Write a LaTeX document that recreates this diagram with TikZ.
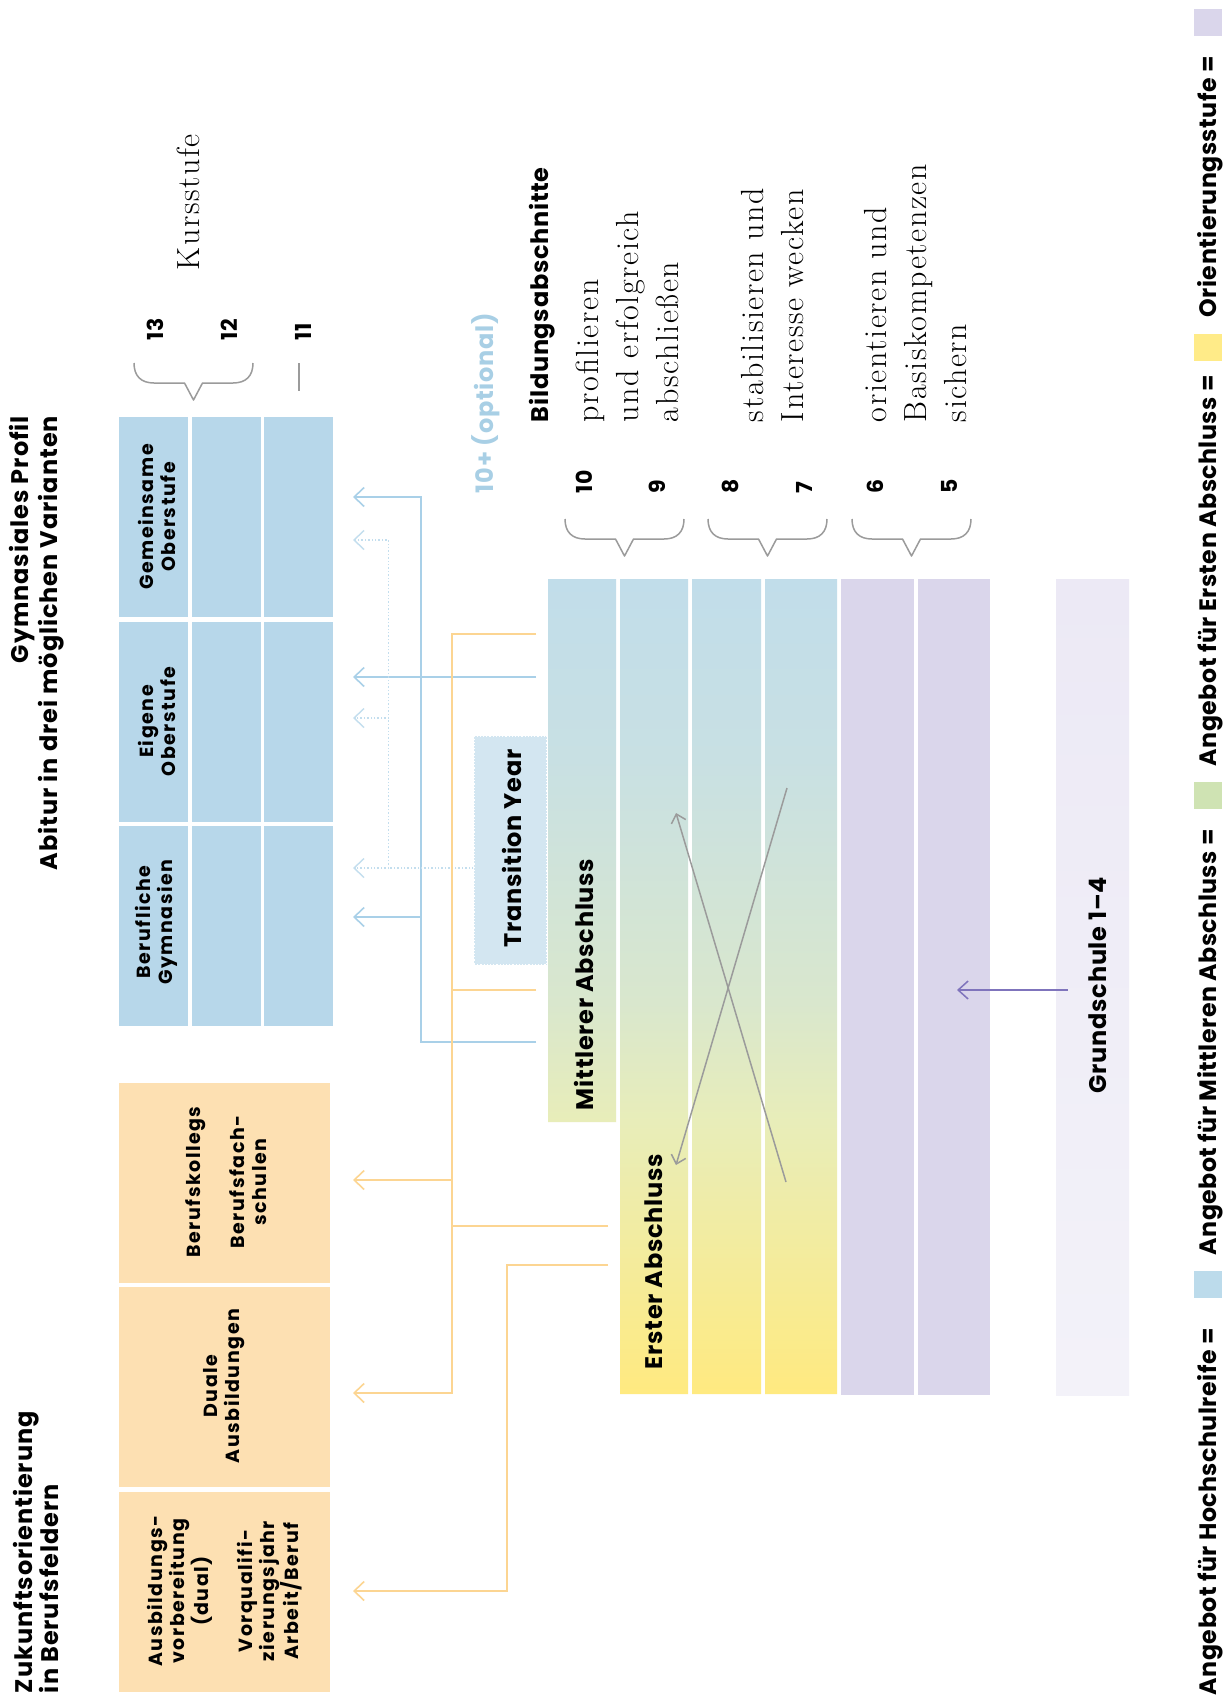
\documentclass[tikz,border=0pt]{standalone}
\usepackage{fontspec}
\newfontfamily\pop{Poppins}
\newfontfamily\popt{Poppins}[LetterSpace=4]
\newfontfamily\popb{Poppins}[LetterSpace=3]
\newfontfamily\popg{Poppins}[LetterSpace=2]
\newfontfamily\popls{Poppins}[LetterSpace=8]
\newfontfamily\serls{lmroman17-regular.otf}[LetterSpace=5]
\usetikzlibrary{arrows.meta}
\definecolor{gblue}{HTML}{B7D7EA}
\definecolor{gorange}{HTML}{FDE0B2}
\definecolor{gpurple}{HTML}{DAD6EB}
\definecolor{glavtop}{HTML}{ECE9F5}
\definecolor{glavbot}{HTML}{F3F2F9}
\definecolor{tyfill}{HTML}{D3E6F1}
\definecolor{lblue}{HTML}{A9D0E8}
\definecolor{lorange}{HTML}{FCD592}
\definecolor{ldot}{HTML}{C3DEEE}
\definecolor{optblue}{HTML}{A8CFE5}
\definecolor{grline}{HTML}{9B9B9B}
\definecolor{puline}{HTML}{7F74BC}
\definecolor{gb}{HTML}{C1DDEA}
\definecolor{gbb}{HTML}{C8E0E3}
\definecolor{gm}{HTML}{D9E7CD}
\definecolor{gc}{HTML}{E8EDB9}
\definecolor{gy}{HTML}{FFEA80}
\definecolor{lgblue}{HTML}{BCDBEB}
\definecolor{lggreen}{HTML}{CFE3B3}
\definecolor{lgyellow}{HTML}{FFEB88}
\definecolor{lgpurple}{HTML}{DAD6EB}
\pgfdeclareverticalshading{colgrad}{100bp}{color(0bp)=(gy); color(25bp)=(gy); color(41.7bp)=(gc); color(49bp)=(gm); color(64bp)=(gbb); color(75bp)=(gb); color(100bp)=(gb)}
\newcommand{\swatch}[1]{\textcolor{#1}{\rule[-6pt]{27pt}{28pt}}}
\begin{document}
\begin{tikzpicture}[x=1pt,y=1pt,
  rt/.style={rotate=90, inner sep=0pt, outer sep=0pt},
  ttl/.style={rt, font=\popt\bfseries\fontsize{24}{28}\selectfont},
  num/.style={rt, font=\pop\bfseries\fontsize{22}{26}\selectfont},
  big/.style={rt, font=\popb\bfseries\fontsize{24}{28}\selectfont},
  lbl/.style={rt, align=center, font=\popls\bfseries\fontsize{19}{22}\selectfont},
  ser/.style={rt, font=\serls\fontsize{32}{38}\selectfont},
  leg/.style={rt, font=\popg\bfseries\fontsize{23.7}{28}\selectfont},
  bblk/.style={rectangle, fill=gblue, inner sep=0pt, minimum width=69pt, minimum height=200pt},
  oblk/.style={rectangle, fill=gorange, inner sep=0pt, minimum width=211pt, minimum height=200pt},
  pblk/.style={rectangle, fill=gpurple, inner sep=0pt, minimum height=816pt},
  tybox/.style={rectangle, fill=tyfill, draw=white, dotted, line width=1.2pt, inner sep=0pt, minimum width=73pt, minimum height=229pt},
  barb/.style={-{Straight Barb[length=10pt,width=19pt]}},
  blueln/.style={draw=lblue, line width=1.6pt},
  dotln/.style={draw=ldot, line width=1.4pt, dotted},
  orln/.style={draw=lorange, line width=1.6pt},
  grln/.style={draw=grline, line width=1.5pt, -{Straight Barb[length=8pt,width=15pt]}},
  puln/.style={draw=puline, line width=1.5pt, -{Straight Barb[length=10pt,width=18pt]}},
  graybr/.style={draw=grline, line width=1.5pt, line join=round},
  brc/.pic={\draw[graybr] (-#1,0) .. controls (-#1,-13) and (-#1+7,-20) .. (-#1+20,-20) -- (-9,-20) -- (0,-37) -- (9,-20) -- (#1-20,-20) .. controls (#1-7,-20) and (#1,-13) .. (#1,0);}
]
\useasboundingbox (0,0) rectangle (1224,-1697);
\fill[white] (0,0) rectangle (1224,-1697);

% ---------- Gymnasiales Profil blocks ----------
\foreach \cx [count=\i] in {153.5,226.5,298.5}
  \foreach \cy [count=\j] in {517,721.5,925.5}
    \node[bblk] (gb\i\j) at (\cx,-\cy) {};
\node[lbl] (lgem) at (156.5,-517) {Gemeinsame\\Oberstufe};
\node[lbl] (leig) at (156.5,-721.5) {Eigene\\Oberstufe};
\node[lbl] (lber) at (156.5,-922) {Berufliche\\Gymnasien};

% ---------- Berufsfelder blocks ----------
\node[oblk] (ob1) at (224.5,-1182.5) {};
\node[oblk] (ob2) at (224.5,-1387) {};
\node[oblk] (ob3) at (224.5,-1591.5) {};
\node[lbl] (lbk) at (226,-1182) {Berufskollegs\\[22pt]Berufsfach-\\schulen};
\node[lbl] (ldu) at (224,-1386) {Duale\\Ausbildungen};
\node[lbl] (lav) at (225,-1591) {Ausbildungs-\\vorbereitung\\(dual)\\[22pt]Vorqualifi-\\zierungsjahr\\Arbeit/Beruf};

% ---------- titles ----------
\node[ttl, anchor=base west] (t1) at (32,-1693) {Zukunftsorientierung};
\node[ttl, anchor=base west] (t2) at (58,-1693) {in Berufsfeldern};
\node[ttl, anchor=base east] (t3) at (28,-416) {Gymnasiales Profil};
\node[ttl, anchor=base east] (t4) at (57,-416) {Abitur in drei möglichen Varianten};

% ---------- Kursstufe ----------
\pic at (193.5,-363) {brc=59.5};
\draw[graybr] (299,-363) -- (299,-391);
\node[num, anchor=base west] (n13) at (163,-340) {13};
\node[num, anchor=base west] (n12) at (237,-340) {12};
\node[num, anchor=base west] (n11) at (311,-340) {11};
\node[ser, anchor=base west] (kurs) at (199,-270) {Kursstufe};

% ---------- Bildungsabschnitte ----------
\node[big, text=optblue, anchor=base west] (opt) at (493,-493) {10+ (optional)};
\node[big, anchor=base west] (bild) at (548,-422) {Bildungsabschnitte};
\node[ser, anchor=base west] (s1) at (598,-422) {profilieren};
\node[ser, anchor=base west] (s2) at (638,-422) {und erfolgreich};
\node[ser, anchor=base west] (s3) at (678,-422) {abschließen};
\node[ser, anchor=base west] (s4) at (763,-422) {stabilisieren und};
\node[ser, anchor=base west] (s5) at (803,-422) {Interesse wecken};
\node[ser, anchor=base west] (s6) at (886,-422) {orientieren und};
\node[ser, anchor=base west] (s7) at (926,-422) {Basiskompetenzen};
\node[ser, anchor=base west] (s8) at (966,-422) {sichern};
\node[num, anchor=base west] (n10) at (592,-493) {10};
\node[num, anchor=base west] (n9) at (665,-493) {9};
\node[num, anchor=base west] (n8) at (738,-493) {8};
\node[num, anchor=base west] (n7) at (812,-493) {7};
\node[num, anchor=base west] (n6) at (883,-493) {6};
\node[num, anchor=base west] (n5) at (957,-493) {5};
\pic at (624.5,-519) {brc=59.5};
\pic at (767.5,-519) {brc=59.5};
\pic at (911.5,-519) {brc=59.5};

% ---------- gradient columns ----------
\begin{scope}
\clip (548,-579) rectangle (616,-1122) (620,-579) rectangle (688,-1394)
      (692,-579) rectangle (761,-1394) (765,-579) rectangle (837,-1394);
\shade[shading=colgrad] (548,-579) rectangle (837,-1394);
\end{scope}
\node[pblk, minimum width=73pt] (p6) at (877.5,-987) {};
\node[pblk, minimum width=72pt] (p5) at (954,-987) {};
\node[rectangle, inner sep=0pt, minimum width=73pt, minimum height=816pt, top color=glavtop, bottom color=glavbot] (gs) at (1092.5,-987) {};

\node[big, anchor=base west] (mit) at (593,-1110) {Mittlerer Abschluss};
\node[big, anchor=base west] (ers) at (662,-1369) {Erster Abschluss};
\node[big, anchor=base west] (gst) at (1106,-1093) {Grundschule 1–4};

% ---------- Transition Year ----------
\node[tybox] (ty) at (510.5,-850.5) {};
\node[big, anchor=base west] (tyt) at (521,-947) {Transition Year};

% ---------- connectors ----------
\coordinate (mA) at (536,-1042);
\coordinate (mB) at (536,-677);
\coordinate (tA1) at (353,-497);
\coordinate (tA2) at (353,-677);
\coordinate (tA3) at (353,-917);
\draw[blueln, barb] (mA) -- ++(-115,0) |- (tA1);
\draw[blueln, barb] (421,-917) -- (tA3);
\draw[blueln, barb] (mB) -- (tA2);

\coordinate (tD1) at (353,-540);
\coordinate (tD2) at (353,-718);
\coordinate (tD3) at (353,-868);
\draw[dotln, barb] ([yshift=-17.5pt]ty.west) -- ++(-85,0) |- (tD1);
\draw[dotln, barb] (389,-868) -- (tD3);
\draw[dotln, barb] (389,-718) -- (tD2);

\coordinate (oA) at (536,-634);
\coordinate (oB) at (536,-990);
\coordinate (oC) at (608,-1226);
\coordinate (oD) at (608,-1265);
\coordinate (tO1) at (353,-1180);
\coordinate (tO3) at (353,-1393);
\coordinate (tO4) at (353,-1591);
\draw[orln, barb] (oA) -- ++(-84,0) |- (tO3);
\draw[orln] (oB) -- ++(-84,0);
\draw[orln, barb] (452,-1180) -- (tO1);
\draw[orln] (oC) -- ++(-156,0);
\draw[orln, barb] (oD) -- ++(-101,0) |- (tO4);

\coordinate (xA) at (787,-788);
\coordinate (xAe) at (676,-1165);
\coordinate (xB) at (786,-1182);
\coordinate (xBe) at (676,-813);
\draw[grln] (xA) -- (xAe);
\draw[grln] (xB) -- (xBe);

\draw[puln] (gs.west |- 0,-990) ++(12,0) -- (957,-990);

% ---------- legend ----------
\node[leg, anchor=base west] (legend) at (1216,-1695) {Angebot für Hochschulreife =\hspace{30pt}\swatch{lgblue}\hspace{16pt}Angebot für Mittleren Abschluss =\hspace{20pt}\swatch{lggreen}\hspace{16pt}Angebot für Ersten Abschluss =\hspace{14pt}\swatch{lgyellow}\hspace{17pt}Orientierungsstufe =\hspace{20pt}\swatch{lgpurple}};
\end{tikzpicture}
\end{document}
